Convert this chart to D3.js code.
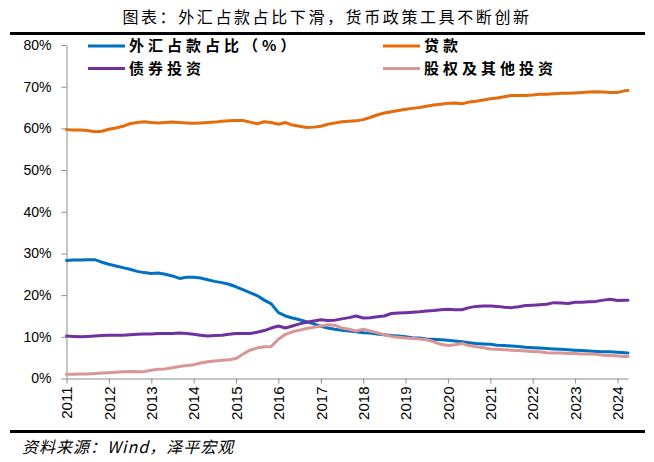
<!DOCTYPE html>
<html><head><meta charset="utf-8">
<script src="https://cdn.jsdelivr.net/npm/d3@7"></script>
<style>body{margin:0;background:#fff}</style>
</head><body><svg id="c" width="654" height="462"></svg>
<script>
const dates = [
"2011-01","2011-03","2011-05","2011-07","2011-09","2011-11",
"2012-01","2012-03","2012-05","2012-07","2012-09","2012-11",
"2013-01","2013-03","2013-05","2013-07","2013-09","2013-11",
"2014-01","2014-03","2014-05","2014-07","2014-09","2014-11",
"2015-01","2015-03","2015-05","2015-07","2015-09","2015-11",
"2016-01","2016-03","2016-05","2016-07","2016-09","2016-11",
"2017-01","2017-03","2017-05","2017-07","2017-09","2017-11",
"2018-01","2018-03","2018-05","2018-07","2018-09","2018-11",
"2019-01","2019-03","2019-05","2019-07","2019-09","2019-11",
"2020-01","2020-03","2020-05","2020-07","2020-09","2020-11",
"2021-01","2021-03","2021-05","2021-07","2021-09","2021-11",
"2022-01","2022-03","2022-05","2022-07","2022-09","2022-11",
"2023-01","2023-03","2023-05","2023-07","2023-09","2023-11",
"2024-01","2024-03","2024-04"];

const fxShare = [
28.3,28.4,28.4,28.5,28.5,27.9,
27.4,27.0,26.6,26.2,25.7,25.4,
25.2,25.3,25.0,24.6,24.0,24.3,
24.3,24.1,23.7,23.3,23.0,22.6,
22.0,21.3,20.6,19.9,18.8,17.9,
15.8,15.0,14.5,14.1,13.6,13.1,
12.5,12.1,11.8,11.6,11.4,11.2,
11.0,10.9,10.7,10.5,10.3,10.2,
10.0,9.8,9.7,9.5,9.4,9.3,
9.2,9.0,8.8,8.6,8.4,8.3,
8.2,8.0,7.9,7.8,7.7,7.5,
7.4,7.3,7.2,7.1,7.0,6.9,
6.8,6.7,6.6,6.5,6.4,6.4,
6.3,6.2,6.1];

const loans = [
59.7,59.6,59.6,59.5,59.2,59.3,
59.8,60.1,60.5,61.1,61.4,61.6,
61.4,61.3,61.4,61.5,61.4,61.3,
61.2,61.3,61.4,61.5,61.7,61.8,
61.9,61.9,61.5,61.1,61.6,61.4,
61.0,61.4,60.8,60.5,60.2,60.3,
60.5,61.0,61.3,61.6,61.7,61.8,
62.1,62.6,63.2,63.7,64.0,64.3,
64.6,64.8,65.0,65.3,65.6,65.8,
66.0,66.1,65.9,66.3,66.5,66.8,
67.1,67.3,67.6,67.9,67.9,67.9,
68.0,68.2,68.2,68.3,68.4,68.4,
68.5,68.6,68.7,68.8,68.7,68.6,
68.6,69.0,69.1];

const bonds = [
10.2,10.1,10.0,10.1,10.2,10.3,
10.4,10.4,10.4,10.5,10.6,10.7,
10.7,10.8,10.8,10.8,10.9,10.8,
10.6,10.4,10.2,10.3,10.4,10.6,
10.8,10.8,10.8,11.1,11.5,12.1,
12.6,12.1,12.6,13.1,13.5,13.8,
14.1,13.9,14.0,14.3,14.6,15.0,
14.5,14.6,14.8,15.0,15.6,15.7,
15.8,15.9,16.0,16.2,16.3,16.5,
16.6,16.5,16.5,17.0,17.3,17.4,
17.4,17.3,17.1,17.0,17.2,17.5,
17.6,17.7,17.8,18.2,18.1,18.0,
18.3,18.3,18.4,18.5,18.8,19.0,
18.7,18.8,18.8];

const equity = [
1.0,1.0,1.1,1.1,1.2,1.3,
1.4,1.5,1.6,1.7,1.6,1.7,
2.0,2.2,2.3,2.6,2.9,3.1,
3.3,3.7,4.0,4.2,4.4,4.5,
4.8,5.8,6.8,7.3,7.6,7.7,
9.4,10.6,11.2,11.6,12.0,12.3,
12.6,12.9,12.8,12.1,11.8,11.4,
11.8,11.4,11.0,10.5,10.1,9.9,
9.7,9.6,9.5,9.3,8.8,8.2,
7.9,8.1,8.4,7.9,7.6,7.4,
7.1,7.0,6.9,6.8,6.7,6.6,
6.5,6.4,6.2,6.1,6.1,6.0,
6.0,5.9,5.9,5.8,5.6,5.5,
5.4,5.3,5.3];

const seriesNames = ["外汇占款占比（%）","贷款","债券投资","股权及其他投资"];
const seriesColors = ["#0070C0","#E46C0A","#7030A0","#D99694"];
const yTicks = [0,10,20,30,40,50,60,70,80];
const xTickYears = [2011,2012,2013,2014,2015,2016,2017,2018,2019,2020,2021,2022,2023,2024];
const titleText = "图表：外汇占款占比下滑，货币政策工具不断创新";
const sourceText = "资料来源：Wind，泽平宏观";

const parse = d3.timeParse("%Y-%m");
const dts = dates.map(parse);
const seriesData = [fxShare, loans, bonds, equity];

const svg = d3.select("#c");
const x = d3.scaleTime().domain([dts[0], dts[dts.length-1]]).range([66.5, 628]);
const y = d3.scaleLinear().domain([0,80]).range([378.5, 45]);
const axisColor = "#8c8c8c";

// title
svg.append("text").attr("x", 327).attr("y", 23).attr("text-anchor","middle")
  .style("font-family","'Noto Sans CJK SC'").style("font-size","16px").style("letter-spacing","2.6px")
  .attr("fill","#000").text(titleText);
svg.append("line").attr("x1",10).attr("x2",645).attr("y1",33.5).attr("y2",33.5).attr("stroke","#000").attr("stroke-width",3);
svg.append("line").attr("x1",10).attr("x2",645).attr("y1",431.5).attr("y2",431.5).attr("stroke","#000").attr("stroke-width",3);

// y axis
const gy = svg.append("g").attr("transform","translate(66.5,0)")
  .call(d3.axisLeft(y).tickValues(yTicks).tickSize(5).tickSizeOuter(0).tickPadding(10).tickFormat(d=>d+"%"));
gy.select(".domain").attr("stroke",axisColor);
gy.selectAll(".tick line").attr("stroke",axisColor);
gy.selectAll("text").style("font-family","'Liberation Sans', Arial, sans-serif").style("font-size","14px").attr("fill","#000");

// x axis
const gx = svg.append("g").attr("transform","translate(0,378.5)")
  .call(d3.axisBottom(x).tickValues(xTickYears.map(v=>new Date(v,0,1))).tickSize(5).tickSizeOuter(0).tickFormat(d3.timeFormat("%Y")));
gx.select(".domain").attr("stroke",axisColor);
gx.selectAll(".tick line").attr("stroke",axisColor);
gx.selectAll("text").attr("transform","rotate(-90)").attr("x",-8).attr("y",0).attr("dy","0.35em")
  .attr("text-anchor","end").style("font-family","'Liberation Sans', Arial, sans-serif").style("font-size","15px").attr("fill","#000");

// lines
const line = d3.line().x((d,i)=>x(dts[i])).y(d=>y(d));
seriesData.forEach((s,k)=>{
  svg.append("path").datum(s).attr("d",line).attr("fill","none")
    .attr("stroke",seriesColors[k]).attr("stroke-width",3).attr("stroke-linejoin","round").attr("stroke-linecap","round");
});

// legend
const legPos = [[88,46],[383,46],[88,68.5],[383,68.5]];
seriesNames.forEach((n,k)=>{
  const [lx,ly] = legPos[k];
  svg.append("line").attr("x1",lx).attr("x2",lx+37).attr("y1",ly).attr("y2",ly)
    .attr("stroke",seriesColors[k]).attr("stroke-width",3);
  svg.append("text").attr("x",lx+41).attr("y",ly).attr("dy","0.36em")
    .style("font-family","'Noto Sans CJK SC'").style("font-size","15px").style("font-weight","bold")
    .style("letter-spacing","4px").attr("fill","#000").text(n);
});

// source
svg.append("text").attr("x",22).attr("y",453)
  .style("font-family","'Noto Sans CJK SC'").style("font-size","16px").style("font-style","italic")
  .style("letter-spacing","1px").attr("fill","#000").text(sourceText);
</script></body></html>
